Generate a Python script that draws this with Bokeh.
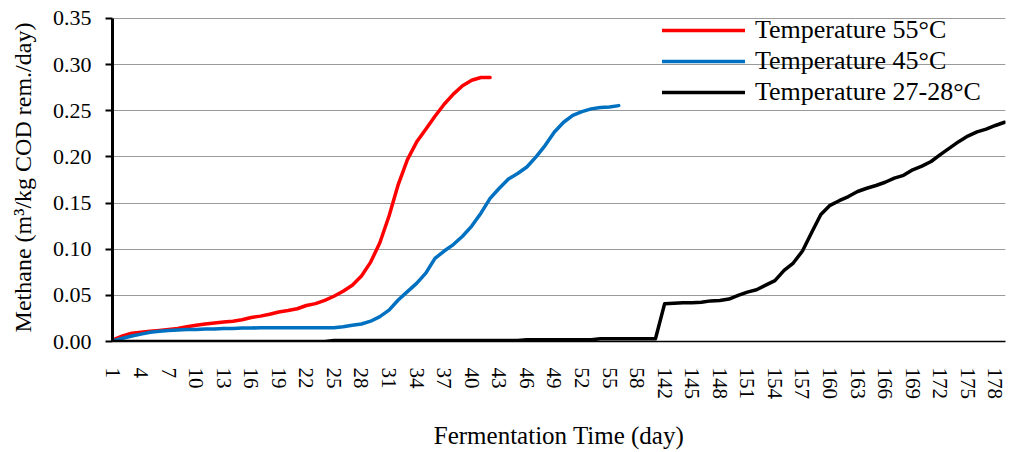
from bokeh.plotting import figure
from bokeh.models import (Range1d, FixedTicker, Legend, LegendItem, ColumnDataSource,
                          CustomJSTickFormatter, NumeralTickFormatter)
from bokeh.embed import file_html
from bokeh.resources import INLINE

# ---- data ----
days = list(range(1, 61)) + list(range(142, 180))
tick_days = [1, 4, 7, 10, 13, 16, 19, 22, 25, 28, 31, 34, 37, 40, 43, 46, 49, 52, 55, 58,
             142, 145, 148, 151, 154, 157, 160, 163, 166, 169, 172, 175, 178]

red_days = days[:42]
red_vals = [0.002, 0.006, 0.009, 0.010, 0.011, 0.012, 0.013, 0.014, 0.016, 0.0175,
            0.019, 0.020, 0.021, 0.022, 0.0235, 0.026, 0.0275, 0.0295, 0.032, 0.0335,
            0.0355, 0.039, 0.041, 0.0445, 0.049, 0.0545, 0.061, 0.071, 0.086, 0.107,
            0.136, 0.170, 0.197, 0.216, 0.230, 0.244, 0.257, 0.268, 0.277, 0.283,
            0.286, 0.286]

blue_days = days[:56]
blue_vals = [0.001, 0.0035, 0.006, 0.008, 0.010, 0.011, 0.012, 0.0125, 0.013, 0.013,
             0.0135, 0.0135, 0.014, 0.014, 0.0145, 0.0145, 0.015, 0.015, 0.015, 0.015,
             0.015, 0.015, 0.015, 0.015, 0.015, 0.016, 0.0175, 0.019, 0.022, 0.027,
             0.034, 0.045, 0.054, 0.063, 0.074, 0.090, 0.098, 0.105, 0.114, 0.125,
             0.139, 0.155, 0.166, 0.176, 0.182, 0.189, 0.200, 0.2125, 0.227, 0.2375,
             0.245, 0.249, 0.252, 0.2535, 0.254, 0.2555]

black_days = days
black_vals = [0.0] * 24 + [0.001] * 21 + [0.002] * 8 + [0.003] * 7 + [
    0.041, 0.0415, 0.042, 0.042, 0.0425, 0.044, 0.0445, 0.046, 0.050, 0.0535,
    0.056, 0.061, 0.066, 0.077, 0.085, 0.098, 0.118, 0.1375, 0.1475, 0.1525,
    0.157, 0.1625, 0.166, 0.169, 0.1725, 0.177, 0.180, 0.186, 0.190, 0.195,
    0.2025, 0.2095, 0.2165, 0.2225, 0.227, 0.230, 0.234, 0.2375]

series_names = ["Temperature 55\u00b0C", "Temperature 45\u00b0C", "Temperature 27-28\u00b0C"]
series_colors = ["#FF0000", "#0070C0", "#000000"]

y_ticks = [0.0, 0.05, 0.10, 0.15, 0.20, 0.25, 0.30, 0.35]

FONT = "Liberation Serif"
TICK_FONT = "'Liberation Serif', 'Times New Roman', serif"

pos = {d: i for i, d in enumerate(days)}

p = figure(width=1011, height=452, output_backend="svg", toolbar_location=None,
           x_range=Range1d(-0.1, len(days) - 1 + 0.1), y_range=Range1d(0, 0.3618),
           min_border_left=112, min_border_right=6, min_border_top=7, min_border_bottom=107)
p.outline_line_color = None
p.background_fill_color = "white"

renderers = []
for d_list, vals, col in zip([red_days, blue_days, black_days],
                             [red_vals, blue_vals, black_vals], series_colors):
    src = ColumnDataSource(dict(x=[pos[d] for d in d_list], y=vals))
    r = p.line("x", "y", source=src, line_color=col, line_width=3.5,
               line_join="round", line_cap="round")
    renderers.append(r)

# axes
p.xaxis.ticker = FixedTicker(ticks=[pos[d] for d in tick_days])
p.xaxis.formatter = CustomJSTickFormatter(args=dict(labels=[str(d) for d in days]),
                                          code="return labels[Math.round(tick)];")
p.xaxis.major_label_orientation = "vertical"
p.xaxis.major_tick_line_color = None
p.xaxis.minor_tick_line_color = None
p.xaxis.axis_line_color = "black"
p.xaxis.axis_line_width = 1.5
p.xaxis.major_label_text_font = TICK_FONT
p.xaxis.major_label_text_font_size = "21px"
p.xaxis.major_label_text_color = "black"
p.xaxis.major_label_standoff = 20
p.xaxis.axis_label = "Fermentation Time (day)"
p.xaxis.axis_label_text_font = FONT
p.xaxis.axis_label_text_font_size = "25px"
p.xaxis.axis_label_text_font_style = "normal"
p.xaxis.axis_label_text_color = "black"
p.xaxis.axis_label_standoff = 20

p.yaxis.ticker = FixedTicker(ticks=y_ticks)
p.yaxis.formatter = NumeralTickFormatter(format="0.00")
p.yaxis.bounds = (0, 0.35)
p.yaxis.minor_tick_line_color = None
p.yaxis.major_tick_out = 7
p.yaxis.major_tick_in = 0
p.yaxis.major_tick_line_width = 2
p.yaxis.major_tick_line_color = "black"
p.yaxis.axis_line_color = "black"
p.yaxis.axis_line_width = 3
p.yaxis.major_label_text_font = TICK_FONT
p.yaxis.major_label_text_font_size = "22px"
p.yaxis.major_label_text_color = "black"
p.yaxis.major_label_standoff = 14
p.yaxis.axis_label = "Methane (m\u00b3/kg  COD rem./day)"
p.yaxis.axis_label_text_font = FONT
p.yaxis.axis_label_text_font_size = "24px"
p.yaxis.axis_label_text_font_style = "normal"
p.yaxis.axis_label_text_color = "black"
p.yaxis.axis_label_standoff = 14

p.xgrid.grid_line_color = None
p.ygrid.ticker = FixedTicker(ticks=y_ticks[1:])
p.ygrid.grid_line_color = "#9a9a9a"
p.ygrid.grid_line_width = 1

legend = Legend(items=[LegendItem(label=n, renderers=[r]) for n, r in zip(series_names, renderers)],
                location=(550, 234), orientation="vertical")
legend.background_fill_alpha = 0
legend.border_line_color = None
legend.padding = 0
legend.margin = 0
legend.spacing = 1
legend.glyph_width = 83
legend.glyph_height = 20
legend.label_height = 30
legend.label_standoff = 10
legend.label_text_font = FONT
legend.label_text_font_size = "26px"
legend.label_text_color = "black"
p.add_layout(legend)

open("out.html", "w").write(file_html(p, INLINE))
